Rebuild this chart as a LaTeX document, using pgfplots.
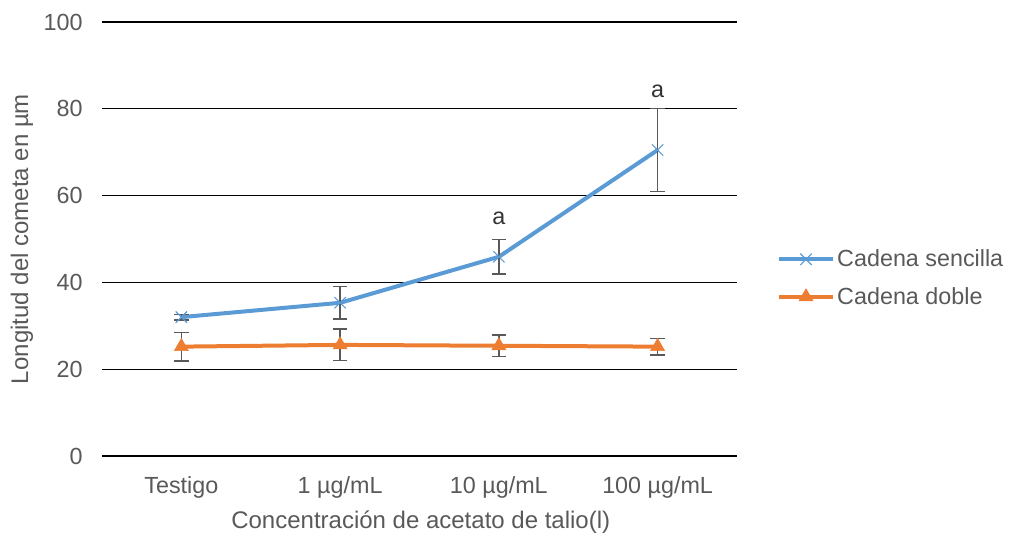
\documentclass[border=0pt]{standalone}
\usepackage{fontspec}
\setmainfont{Liberation Sans}
\usepackage{pgfplots}
\pgfplotsset{compat=1.18}
\definecolor{cblue}{HTML}{5B9BD5}
\definecolor{corange}{HTML}{ED7D31}
\definecolor{tgray}{HTML}{595959}
\begin{document}
\begin{tikzpicture}
\path[use as bounding box] (-76.5pt,-57.75pt) rectangle (681pt,342pt);
\begin{axis}[
  scale only axis,
  width=476.25pt, height=325.5pt,
  xmin=-0.5, xmax=3.5, ymin=0, ymax=100,
  xtick={0,1,2,3},
  xticklabels={Testigo, 1 µg/mL, 10 µg/mL, 100 µg/mL},
  ytick={0,20,40,60,80,100},
  major tick length=0pt,
  axis line style={draw=none},
  ymajorgrids,
  grid style={black, line width=1pt},
  /pgf/number format/assume math mode=true,
  font=\fontsize{17.5}{20}\selectfont,
  tick label style={text=tgray},
  yticklabel style={xshift=-11pt},
  xticklabel style={yshift=-12pt},
  xlabel={Concentración de acetato de talio(l)},
  ylabel={Longitud del cometa en µm},
  xlabel style={text=tgray, font=\fontsize{18}{21}\selectfont, at={(axis description cs:0.502,-0.152)}, anchor=center},
  ylabel style={text=tgray, font=\fontsize{18}{21}\selectfont, at={(axis description cs:-0.126,0.5)}, anchor=center, rotate=0},
  legend style={at={(1.057,0.41)}, anchor=west, draw=none, fill=none, text=tgray,
    row sep=10pt, font=\fontsize{17.5}{20}\selectfont},
  legend cell align=left,
  legend image code/.code={
    \draw[#1, mark repeat=2, mark phase=2] plot coordinates {(0cm,0cm) (0.7cm,0cm) (1.4cm,0cm)};
  },
  clip=false,
]
\addplot[color=cblue, line width=3pt, mark=x, mark size=6pt,
  mark options={line width=0.8pt},
  error bars/.cd, y dir=both, y explicit,
  error bar style={tgray, line width=1.2pt},
  error mark options={tgray, rotate=90, mark size=5.5pt, line width=1.2pt}]
  coordinates {
  (0,32.0) +- (0,0.6)
  (1,35.3) +- (0,3.8)
  (2,45.9) +- (0,4.0)
  (3,70.5) +- (0,9.6)
  };
\addlegendentry{Cadena sencilla}
\addplot[color=corange, line width=3pt, mark=triangle*, mark size=6pt,
  mark options={line width=0.5pt},
  error bars/.cd, y dir=both, y explicit,
  error bar style={tgray, line width=1.2pt},
  error mark options={tgray, rotate=90, mark size=5.5pt, line width=1.2pt}]
  coordinates {
  (0,25.2) +- (0,3.3)
  (1,25.6) +- (0,3.6)
  (2,25.4) +- (0,2.5)
  (3,25.2) +- (0,1.9)
  };
\addlegendentry{Cadena doble}
\node[text=black!80, font=\fontsize{17.5}{20}\selectfont] at (axis cs:2,54.8) {a};
\node[text=black!80, font=\fontsize{17.5}{20}\selectfont] at (axis cs:3,84.0) {a};
\end{axis}
\end{tikzpicture}
\end{document}
